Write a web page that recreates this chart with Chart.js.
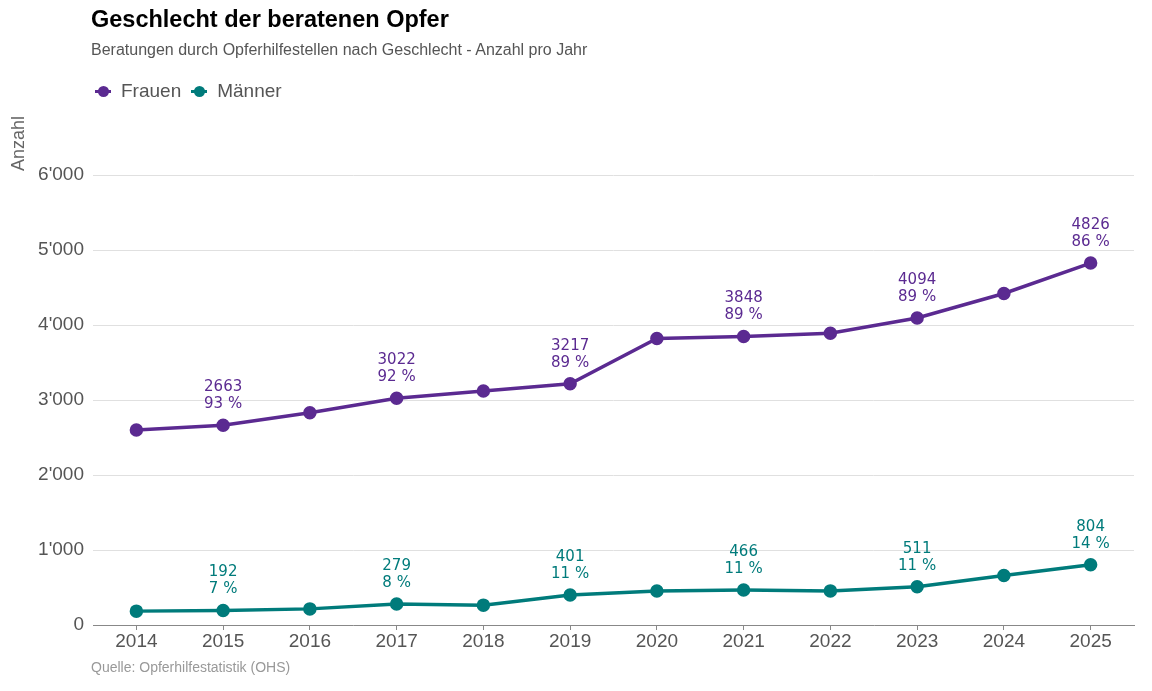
<!DOCTYPE html>
<html>
<head>
<meta charset="utf-8">
<script src="https://cdn.jsdelivr.net/npm/chart.js@4"></script>
<style>
  body { margin: 0; background: #fff; font-family: "Liberation Sans", Arial, sans-serif; }
  #wrap { position: relative; width: 1152px; height: 691px; }
  #chart { position: absolute; left: 0; top: 0; }
  #title { position: absolute; left: 91px; top: 6px; font-size: 23.5px; font-weight: bold; color: #000; }
  #subtitle { position: absolute; left: 91px; top: 41px; font-size: 16px; color: #555; }
  #legend { position: absolute; left: 95px; top: 80px; font-size: 19px; color: #555; display: flex; }
  .item { display: flex; align-items: center; margin-right: 10px; }
  .mark { position: relative; width: 16px; height: 11px; margin-right: 10px; }
  .mark i { position: absolute; left: 0; top: 4px; width: 16px; height: 3px; }
  .mark b { position: absolute; left: 2.5px; top: 0; width: 11px; height: 11px; border-radius: 50%; }
  #source { position: absolute; left: 91px; top: 659px; font-size: 14px; color: #999; }
</style>
</head>
<body>
<div id="wrap">
  <canvas id="chart" width="1152" height="691"></canvas>
  <div id="title">Geschlecht der beratenen Opfer</div>
  <div id="subtitle">Beratungen durch Opferhilfestellen nach Geschlecht - Anzahl pro Jahr</div>
  <div id="legend"></div>
  <div id="source">Quelle: Opferhilfestatistik (OHS)</div>
</div>
<script>
const years = ['2014', '2015', '2016', '2017', '2018', '2019', '2020', '2021', '2022', '2023', '2024', '2025']
const frauen = [2600, 2663, 2830, 3022, 3120, 3217, 3820, 3848, 3890, 4094, 4420, 4826]
const maenner = [185, 192, 215, 279, 265, 401, 453, 466, 455, 511, 660, 804]
// percentages shown only on every second year
const frauenPct = [null, 93, null, 92, null, 89, null, 89, null, 89, null, 86]
const maennerPct = [null, 7, null, 8, null, 11, null, 11, null, 11, null, 14]

const purple = '#5b2a91'
const teal = '#007b7b'

const fmt = v => String(v).replace(/\B(?=(\d{3})+(?!\d))/g, "'")

let legend = document.getElementById('legend')
;[['Frauen', purple], ['Männer', teal]].forEach(([name, col]) => {
  let el = document.createElement('div')
  el.className = 'item'
  el.innerHTML = `<span class="mark"><i style="background:${col}"></i><b style="background:${col}"></b></span>${name}`
  legend.append(el)
})

const valueLabels = {
  id: 'valueLabels',
  afterDatasetsDraw(chart) {
    let ctx = chart.ctx
    let pcts = [frauenPct, maennerPct]
    ctx.save()
    ctx.font = '15px "DejaVu Sans"'
    ctx.textAlign = 'center'
    ctx.textBaseline = 'middle'
    chart.data.datasets.forEach((ds, i) => {
      let meta = chart.getDatasetMeta(i)
      ctx.fillStyle = ds.borderColor
      meta.data.forEach((pt, j) => {
        if (pcts[i][j] == null) return
        ctx.fillText(String(ds.data[j]), pt.x, pt.y - 38)
        ctx.fillText(pcts[i][j] + ' %', pt.x, pt.y - 21)
      })
    })
    ctx.restore()
  }
}

const axisTitle = {
  id: 'axisTitle',
  afterDraw(chart) {
    let ctx = chart.ctx
    ctx.save()
    ctx.translate(28, 171)
    ctx.rotate(-Math.PI / 2)
    ctx.font = '18px "Liberation Sans"'
    ctx.fillStyle = '#666'
    ctx.textAlign = 'left'
    ctx.textBaseline = 'bottom'
    ctx.fillText('Anzahl', 0, 0)
    ctx.restore()
  }
}

let ctx = document.getElementById('chart').getContext('2d')
let myChart = new Chart(ctx, {
  type: 'line',
  data: {
    labels: years,
    datasets: [{
      label: 'Frauen',
      data: frauen,
      borderColor: purple,
      backgroundColor: purple,
      borderWidth: 3.5,
      pointRadius: 5,
      tension: 0
    }, {
      label: 'Männer',
      data: maenner,
      borderColor: teal,
      backgroundColor: teal,
      borderWidth: 3.5,
      pointRadius: 5,
      tension: 0
    }]
  },
  options: {
    responsive: false,
    animation: false,
    layout: { padding: { top: 175, right: 18, bottom: 26, left: 0 } },
    plugins: {
      legend: { display: false },
      tooltip: { enabled: false }
    },
    scales: {
      x: {
        offset: true,
        grid: { drawOnChartArea: false, drawTicks: true, tickLength: 5, color: '#888' },
        border: { color: '#888', width: 1 },
        ticks: { color: '#555', font: { family: 'Liberation Sans', size: 19 }, padding: 0 },
        afterFit: s => { s.height = 40 }
      },
      y: {
        min: 0,
        max: 6000,
        grid: { color: '#e0e0e0', drawTicks: false },
        border: { display: false },
        ticks: {
          stepSize: 1000,
          color: '#555',
          font: { family: 'Liberation Sans', size: 19 },
          padding: 9,
          callback: v => fmt(v)
        },
        afterFit: s => { s.width = 93 }
      }
    }
  },
  plugins: [valueLabels, axisTitle]
})
</script>
</body>
</html>
